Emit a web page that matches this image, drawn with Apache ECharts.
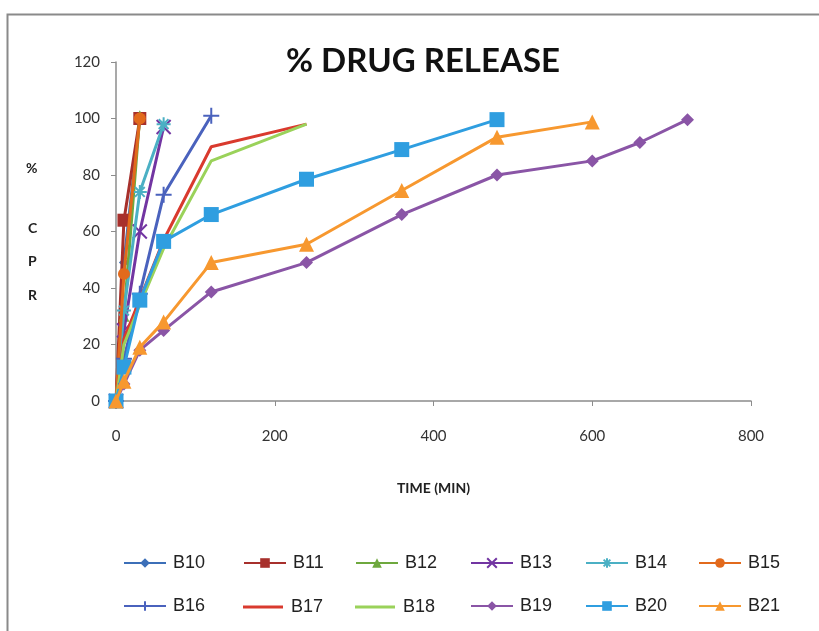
<!DOCTYPE html>
<html>
<head>
<meta charset="utf-8">
<script src="https://cdn.jsdelivr.net/npm/echarts@6/dist/echarts.min.js"></script>
<style>
  html, body { margin: 0; padding: 0; background: #ffffff; }
  #chart { width: 819px; height: 631px; }
</style>
</head>
<body>
<div id="chart"></div>
<script>
// Sampling times (minutes) and cumulative % release for each batch
const tB10 = [0, 10, 30];            const vB10 = [0, 49, 100];
const tB11 = [0, 10, 30];            const vB11 = [0, 64, 100];
const tB12 = [0, 10, 30];            const vB12 = [0, 30, 101];
const tB13 = [0, 10, 30, 60];        const vB13 = [0, 25, 60, 97];
const tB14 = [0, 10, 30, 60];        const vB14 = [0, 32, 74, 98];
const tB15 = [0, 10, 30];            const vB15 = [0, 45, 100];
const tB16 = [0, 10, 30, 60, 120];   const vB16 = [0, 15, 38, 73, 101];
const tB17 = [0, 10, 30, 60, 120, 240];  const vB17 = [0, 22, 36, 57, 90, 98];
const tB18 = [0, 10, 30, 60, 120, 240];  const vB18 = [0, 20, 34, 54, 85, 98];
const tB19 = [0, 10, 30, 60, 120, 240, 360, 480, 600, 660, 720];
const vB19 = [0, 6, 18, 25, 38.6, 49, 66, 80, 85, 91.5, 99.6];
const tB20 = [0, 10, 30, 60, 120, 240, 360, 480];
const vB20 = [0, 12, 35.7, 56.5, 66, 78.5, 89, 99.6];
const tB21 = [0, 10, 30, 60, 120, 240, 360, 480, 600];
const vB21 = [0, 7, 19, 28, 49, 55.5, 74.5, 93.4, 98.8];

const seriesNames = ['B10','B11','B12','B13','B14','B15','B16','B17','B18','B19','B20','B21'];
const seriesTimes = [tB10,tB11,tB12,tB13,tB14,tB15,tB16,tB17,tB18,tB19,tB20,tB21];
const seriesValues = [vB10,vB11,vB12,vB13,vB14,vB15,vB16,vB17,vB18,vB19,vB20,vB21];

const xTicks = [0, 200, 400, 600, 800];
const yTicks = [0, 20, 40, 60, 80, 100, 120];

// Styling per batch
const colors = ['#3c6fb8','#a7302c','#6ea83e','#7235a2','#4bb0c4','#e26a1c',
                '#4a62bd','#d93a2e','#9ad25a','#8a55a6','#2f9ee0','#f7982f'];
const P_X = 'path://M0,0 L10,10 M10,0 L0,10';
const P_STAR = 'path://M5,0 L5,10 M0,5 L10,5 M1.5,1.5 L8.5,8.5 M8.5,1.5 L1.5,8.5';
const P_PLUS = 'path://M0,5 L10,5 M5,2 L5,8';
const symbols = ['diamond','rect','triangle',P_X,P_STAR,'circle',P_PLUS,'none','none','diamond','rect','triangle'];
const sizes = [10, 13, 11, 14, 14, 12, 16, 0, 0, 13, 15, 15];
const strokeSym = [false,false,false,true,true,false,true,false,false,false,false,false];

const series = seriesNames.map((name, i) => ({
  name,
  type: 'line',
  data: seriesTimes[i].map((t, k) => [t, seriesValues[i][k]]),
  symbol: symbols[i],
  symbolSize: sizes[i],
  showSymbol: symbols[i] !== 'none',
  lineStyle: { color: colors[i], width: 3 },
  itemStyle: strokeSym[i]
    ? { color: colors[i], borderColor: colors[i], borderWidth: 2 }
    : { color: colors[i], borderWidth: 0 },
  z: 2 + i,
  animation: false
}));

// One legend per batch, two rows of six
const legendLeft = [118, 238, 350, 465, 580, 693];
const legendTop = [549, 592];
const legends = seriesNames.map((name, i) => {
  const plain = symbols[i] === 'none';
  return {
    data: plain ? [{ name, icon: 'path://M0,0 H40 V3 H0 Z' }] : [name],
    left: legendLeft[i % 6],
    top: legendTop[Math.floor(i / 6)] + (plain ? 1 : 0),
    itemWidth: 42,
    itemHeight: plain ? 3 : 12,
    itemGap: 0,
    textStyle: { fontFamily: 'Liberation Sans', fontSize: 18, color: '#222',
                 padding: [3, 0, 0, 2] },
    selectedMode: false
  };
});

const chart = echarts.init(document.getElementById('chart'), null, { renderer: 'canvas' });
chart.setOption({
  backgroundColor: '#ffffff',
  animation: false,
  title: {
    text: '% DRUG RELEASE',
    left: 418, top: 40, textAlign: 'center',
    textStyle: { fontFamily: 'Lato', fontWeight: 'bold', fontSize: 33, color: '#111' }
  },
  graphic: [
    { type: 'rect', shape: { x: 7.5, y: 14.5, width: 900, height: 700 },
      style: { fill: 'none', stroke: '#8a8a8a', lineWidth: 2 }, silent: true },
    { type: 'text', left: 26, top: 161, style: { text: '%', font: 'bold 14px Lato', fill: '#222' } },
    { type: 'text', left: 28, top: 221, style: { text: 'C', font: 'bold 14px Lato', fill: '#222' } },
    { type: 'text', left: 28, top: 254, style: { text: 'P', font: 'bold 14px Lato', fill: '#222' } },
    { type: 'text', left: 28, top: 288, style: { text: 'R', font: 'bold 14px Lato', fill: '#222' } }
  ],
  legend: legends,
  grid: { left: 116, right: 68, top: 62, bottom: 230 },
  xAxis: {
    type: 'value', min: xTicks[0], max: xTicks[xTicks.length - 1], interval: 200,
    name: 'TIME (MIN)', nameLocation: 'middle', nameGap: 80,
    nameTextStyle: { fontFamily: 'Lato', fontWeight: 'bold', fontSize: 14, color: '#222' },
    axisLine: { lineStyle: { color: '#8c8c8c', width: 1.5 } },
    axisTick: { show: true, length: 5, lineStyle: { color: '#8c8c8c' } },
    axisLabel: { fontFamily: 'Lato', fontSize: 15, color: '#333', margin: 28 },
    splitLine: { show: false }
  },
  yAxis: {
    type: 'value', min: yTicks[0], max: yTicks[yTicks.length - 1], interval: 20,
    axisLine: { show: true, lineStyle: { color: '#8c8c8c', width: 1.5 } },
    axisTick: { show: true, length: 5, inside: false, lineStyle: { color: '#8c8c8c' } },
    axisLabel: { fontFamily: 'Lato', fontSize: 15, color: '#333', margin: 16 },
    splitLine: { show: false }
  },
  series
});
</script>
</body>
</html>
